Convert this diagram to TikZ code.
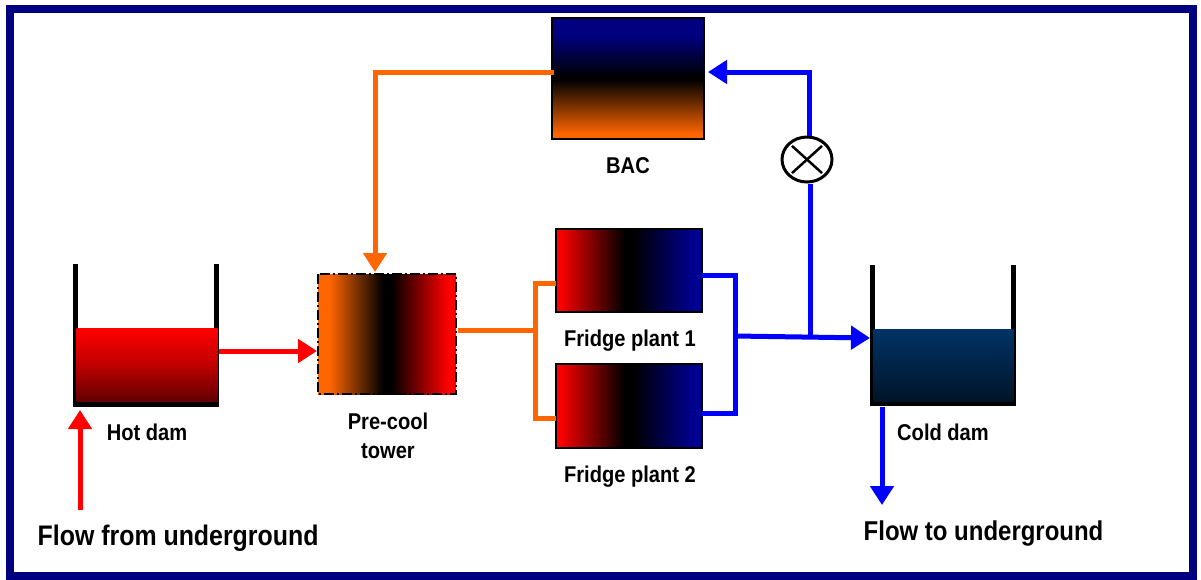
\documentclass[tikz,border=0pt]{standalone}
\usepackage{fontspec}
\setmainfont[FakeStretch=0.88]{Liberation Sans}
\usetikzlibrary{arrows.meta,shapes.geometric}

\definecolor{framenavy}{RGB}{0,0,128}
\definecolor{pipeorange}{RGB}{255,102,0}
\definecolor{pipeblue}{RGB}{0,0,255}
\definecolor{coldtop}{RGB}{0,51,102}
\definecolor{coldbottom}{RGB}{0,20,40}
\definecolor{fridgenavy}{RGB}{0,0,145}

\pgfdeclareverticalshading{bacshade}{100bp}{color(0bp)=(pipeorange); color(27bp)=(pipeorange); color(49.5bp)=(black); color(50.5bp)=(black); color(68bp)=(framenavy); color(100bp)=(framenavy)}
\pgfdeclarehorizontalshading{towershade}{100bp}{color(0bp)=(pipeorange); color(29bp)=(pipeorange); color(48.5bp)=(black); color(51.5bp)=(black); color(72bp)=(red); color(100bp)=(red)}
\pgfdeclarehorizontalshading{fridgeshade}{100bp}{color(0bp)=(red); color(26bp)=(red); color(48.5bp)=(black); color(51.5bp)=(black); color(72bp)=(fridgenavy); color(100bp)=(fridgenavy)}

\tikzset{
    block/.style={draw=black, inner sep=0pt, outer sep=0pt, anchor=north west},
    wall/.style={line width=0.05cm, draw=black},
    pipeline/.style={line width=0.05cm},
    flowtip/.style={-{Triangle[length=0.19cm,width=0.23cm]}},
    label/.style={font=\bfseries\fontsize{6.5}{8.2}\selectfont, align=center},
    biglabel/.style={font=\bfseries\fontsize{8.05}{10}\selectfont}
}

\begin{document}
\begin{tikzpicture}
    \useasboundingbox (0,0) rectangle (12.01,5.79);

    % Outer frame
    \draw[framenavy, line width=0.08cm] (0.10,0.03) rectangle (11.93,5.70);

    % BAC
    \node[block, line width=0.012cm, shading=bacshade, minimum width=1.52cm, minimum height=1.21cm] (bac) at (5.52,5.61) {};
    \node[label] (baclabel) at (6.28,4.13) {BAC};

    % Hot dam
    \draw[wall] (0.755,3.15) -- (0.755,1.75) -- (2.165,1.75) -- (2.165,3.15);
    \node[block, draw=none, top color=red, bottom color=red!38!black, middle color=red!75!black, minimum width=1.41cm, minimum height=0.735cm] (hot) at (0.765,2.51) {};
    \node[label] (hotlabel) at (1.47,1.47) {Hot dam};

    % Pre-cool tower
    \node[block, draw=none, shading=towershade, minimum width=1.38cm, minimum height=1.20cm] (tower) at (3.18,3.05) {};
    \draw[black, line width=0.025cm, dash pattern=on 0.10cm off 0.03cm on 0.02cm off 0.03cm] (tower.north west) rectangle (tower.south east);
    \node[label] (towerlabel) at (3.88,1.43) {Pre-cool\\tower};

    % Fridge plants
    \node[block, line width=0.025cm, shading=fridgeshade, minimum width=1.46cm, minimum height=0.83cm] (fridgea) at (5.56,3.50) {};
    \node[label] (fridgealabel) at (6.30,2.38) {Fridge plant 1};
    \node[block, line width=0.025cm, shading=fridgeshade, minimum width=1.46cm, minimum height=0.84cm] (fridgeb) at (5.56,2.15) {};
    \node[label] (fridgeblabel) at (6.30,1.02) {Fridge plant 2};

    % Cold dam
    \draw[wall] (8.725,3.14) -- (8.725,1.76) -- (10.135,1.76) -- (10.135,3.14);
    \node[block, draw=none, top color=coldtop, bottom color=coldbottom, minimum width=1.40cm, minimum height=0.72cm] (cold) at (8.735,2.50) {};
    \node[label] (coldlabel) at (9.43,1.47) {Cold dam};

    % Valve
    \node[draw=black, line width=0.03cm, fill=white, ellipse, minimum width=0.50cm, minimum height=0.45cm, inner sep=0pt] (valve) at (8.07,4.195) {};
    \draw[black, line width=0.025cm, shorten >=0.05cm, shorten <=0.05cm] (valve.north west) -- (valve.south east);
    \draw[black, line width=0.025cm, shorten >=0.05cm, shorten <=0.05cm] (valve.north east) -- (valve.south west);

    % Free ends and bends of the pipes
    \coordinate (bacout) at (5.54,5.07);
    \coordinate (bacin) at (7.08,5.07);
    \coordinate (towerin) at (3.75,3.07);
    \coordinate (towerout) at (4.58,2.49);
    \coordinate (hotout) at (2.19,2.28);
    \coordinate (towerhot) at (3.17,2.28);
    \coordinate (fridgeain) at (5.56,2.96);
    \coordinate (fridgebin) at (5.56,1.61);
    \coordinate (fridgeaout) at (7.02,3.04);
    \coordinate (fridgebout) at (7.02,1.66);
    \coordinate (mergeblue) at (7.35,2.43);
    \coordinate (coldin) at (8.70,2.41);
    \coordinate (junction) at (8.10,2.42);
    \coordinate (valvetop) at (8.09,5.07);
    \coordinate (coldout) at (8.82,1.72);
    \coordinate (flowto) at (8.82,0.74);
    \coordinate (flowfrom) at (0.80,0.69);
    \coordinate (hotin) at (0.80,1.69);

    % Orange pipes
    \draw[pipeline, pipeorange, flowtip] (bacout) -| (towerin);
    \draw[pipeline, pipeorange] (towerout) -- (5.35,2.49);
    \draw[pipeline, pipeorange] (fridgeain) -| (5.35,1.61) -- (fridgebin);

    % Blue pipes
    \draw[pipeline, pipeblue] (fridgeaout) -| (mergeblue) |- (fridgebout);
    \draw[pipeline, pipeblue, flowtip] (mergeblue) -- (coldin);
    \draw[pipeline, pipeblue] (junction) -- (junction |- valve.south);
    \draw[pipeline, pipeblue, flowtip] (valvetop |- valve.north) -- (valvetop) -- (bacin);
    \draw[pipeline, pipeblue, flowtip] (coldout) -- (flowto);

    % Red pipes
    \draw[pipeline, red, flowtip] (hotout) -- (towerhot);
    \draw[pipeline, red, flowtip] (flowfrom) -- (hotin);

    % Flow labels
    \node[biglabel, anchor=west, inner sep=0pt] (fromlabel) at (0.37,0.41) {Flow from underground};
    \node[biglabel, anchor=west, inner sep=0pt, font=\bfseries\fontsize{7.75}{10}\selectfont] (tolabel) at (8.63,0.45) {Flow to underground};
\end{tikzpicture}
\end{document}
